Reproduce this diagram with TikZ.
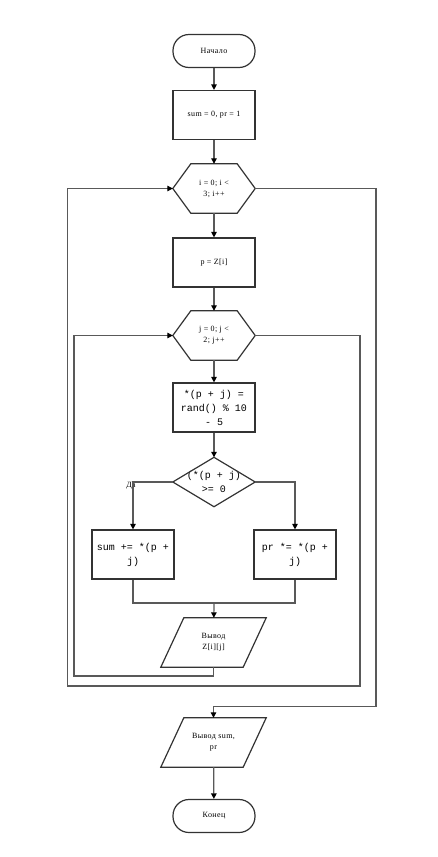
\documentclass[tikz,border=0pt]{standalone}
\usepackage{fontspec}
\setmainfont{Liberation Serif}
\setmonofont{Liberation Mono}
\usetikzlibrary{arrows.meta}
\newcommand{\txtfont}{\fontsize{8}{11}\selectfont\addfontfeature{LetterSpace=5}}
\newcommand{\codefont}{\ttfamily\fontsize{10}{14}\selectfont}
\begin{document}
\begin{tikzpicture}[x=1pt,y=-1pt,
  shp/.style={draw=black!80, line width=1.2pt},
  box/.style={shp, minimum width=82pt, minimum height=49pt, inner sep=1pt, align=center, font=\txtfont},
  codebox/.style={box, font=\codefont},
  term/.style={shp, rounded corners=16pt, minimum width=82pt, minimum height=33pt, inner sep=1pt, font=\txtfont},
  frame/.style={minimum width=82pt, minimum height=49pt, inner sep=1pt, align=center, font=\txtfont},
  paraframe/.style={frame, minimum width=105pt},
  conn/.style={draw=black!65, line width=1.2pt},
  arr/.style={conn, -{Triangle[length=5.5pt,width=5.5pt,color=black]}},
  lbl/.style={font=\txtfont, inner sep=0pt}]
\useasboundingbox (0,0) rectangle (438,857);

\node[term] (start) at (214,51) {Начало};
\node[box] (init) at (214,115) {sum = 0, pr = 1};
\node[frame] (fi) at (214,188.5) {i = 0; i <\\3; i++};
\node[box] (pz) at (214,262.5) {p = Z[i]};
\node[frame] (fj) at (214,335.5) {j = 0; j <\\2; j++};
\node[codebox] (rnd) at (214,407.5) {*(p + j) =\\rand() \% 10\\- 5};
\node[frame, font=\codefont] (cond) at (214,482) {(*(p + j)\\>= 0};
\node[codebox] (sum) at (133,554.5) {sum += *(p +\\j)};
\node[codebox] (pr) at (295,554.5) {pr *= *(p +\\j)};
\node[paraframe] (outz) at (213.5,642.5) {Вывод\\Z[i][j]};
\node[paraframe] (outs) at (213.5,742.5) {Вывод sum,\\pr};
\node[term] (end) at (214,816) {Конец};
\node[lbl] (da) at (131,486) {Да};

% shapes drawn around frames
\foreach \h in {fi,fj}{
  \draw[shp] (\h.west) -- ([xshift=18pt]\h.north west) -- ([xshift=-18pt]\h.north east)
    -- (\h.east) -- ([xshift=-18pt]\h.south east) -- ([xshift=18pt]\h.south west) -- cycle;
}
\draw[shp] (cond.west) -- (cond.north) -- (cond.east) -- (cond.south) -- cycle;
\foreach \p in {outz,outs}{
  \draw[shp] ([xshift=23pt]\p.north west) -- (\p.north east) -- ([xshift=-23pt]\p.south east) -- (\p.south west) -- cycle;
}

% connectors
\coordinate (m) at (214,603);
\coordinate (il) at (74,676);
\coordinate (or) at (360,686);
\coordinate (ol) at (67.5,686);
\coordinate (ex) at (376,706.5);

\draw[arr] (start) -- (init);
\draw[arr] (init) -- (fi);
\draw[arr] (fi) -- (pz);
\draw[arr] (pz) -- (fj);
\draw[arr] (fj) -- (rnd);
\draw[arr] (rnd) -- (cond.north);
\draw[arr] (cond.west) -| (sum.north);
\draw[arr] (cond.east) -| (pr.north);
\draw[conn] (sum.south) |- (m);
\draw[conn] (pr.south) |- (m);
\draw[arr] (m) -- (outz);
\draw[arr] (outz.south) |- (il) |- (fj.west);
\draw[arr] (fj.east) -| (or) -- (ol) |- (fi.west);
\draw[arr] (fi.east) -| (ex) -| (outs.north);
\draw[arr] (outs) -- (end);
\end{tikzpicture}
\end{document}
